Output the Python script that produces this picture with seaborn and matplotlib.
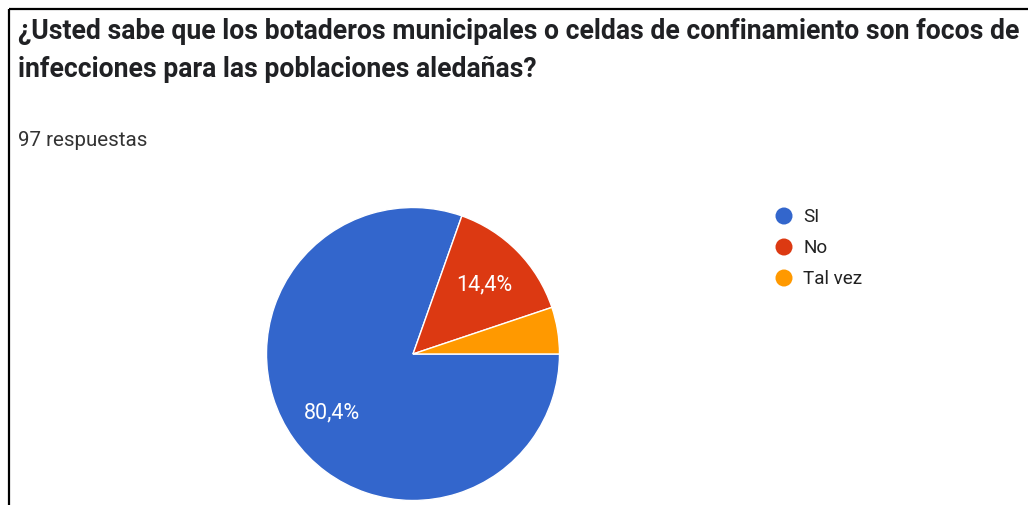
import matplotlib
matplotlib.use("Agg")
import matplotlib.pyplot as plt
import seaborn as sns

# Survey answers
categories = ["SI", "No", "Tal vez"]
counts = [78, 14, 5]
colors = ["#3366CC", "#DC3912", "#FF9900"]
title_lines = [
    "¿Usted sabe que los botaderos municipales o celdas de confinamiento son focos de",
    "infecciones para las poblaciones aledañas?",
]
subtitle = "97 respuestas"

sns.set_theme(style="white")
plt.rcParams["font.family"] = ["Roboto", "DejaVu Sans"]

W, H = 1028, 506
fig = plt.figure(figsize=(W / 100, H / 100), dpi=100)
ax = fig.add_axes([0, 0, 1, 1])
ax.set_xlim(0, W)
ax.set_ylim(0, H)
ax.set_aspect("equal")
ax.axis("off")


def pct_label(p):
    return f"{p:.1f}".replace(".", ",") + "%" if p >= 10 else ""


wedges, _, autotexts = ax.pie(
    counts, colors=colors, startangle=0, counterclock=False,
    center=(413, H - 355), radius=146.5, autopct=pct_label, pctdistance=0.68,
    wedgeprops=dict(edgecolor="white", linewidth=1.0),
    textprops=dict(color="white", fontsize=15.5),
)
ax.set_xlim(0, W)
ax.set_ylim(0, H)

# frame lines
ax.plot([9, 9], [0, H - 10], color="black", lw=1.6, solid_capstyle="butt")
ax.plot([9, W], [H - 10, H - 10], color="black", lw=1.6, solid_capstyle="butt")

for i, line in enumerate(title_lines):
    ax.text(18, H - (39 + 38 * i), line, fontsize=19.2, fontweight="bold",
            color="#202124", va="baseline", ha="left")
ax.text(18, H - 146, subtitle, fontsize=14.8, color="#333333", va="baseline", ha="left")

# legend
for i, (lab, col) in enumerate(zip(categories, colors)):
    y = H - (217 + 31 * i)
    ax.scatter([784], [y], s=150, color=col, edgecolors="none")
    ax.text(803, y, lab, fontsize=13.6, color="#222222", va="center", ha="left")

fig.savefig("out.png", dpi=100)
